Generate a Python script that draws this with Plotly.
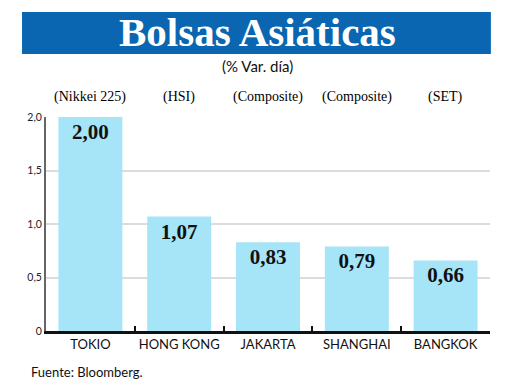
import plotly.graph_objects as go

cities = ["TOKIO", "HONG KONG", "JAKARTA", "SHANGHAI", "BANGKOK"]
indices = ["(Nikkei 225)", "(HSI)", "(Composite)", "(Composite)", "(SET)"]
values = [2.00, 1.07, 0.83, 0.79, 0.66]
ytick_vals = [0, 0.5, 1.0, 1.5, 2.0]
ytick_text = ["0", "0,5", "1,0", "1,5", "2,0"]

fig = go.Figure()
fig.add_trace(go.Bar(
    x=cities, y=values, width=0.72,
    marker=dict(color="#a6e4f8", line=dict(width=0)),
    texttemplate="<b>%{y:.2f}</b>", textposition="inside", insidetextanchor="end",
    textfont=dict(family="Liberation Serif", size=21, color="#111"),
    textangle=0, hoverinfo="skip",
))

# header labels above each bar
for c, lab in zip(cities, indices):
    fig.add_annotation(x=c, y=1.093, xref="x", yref="paper", text=lab, showarrow=False,
                       xanchor="center", yanchor="middle",
                       font=dict(family="Liberation Serif", size=14, color="#000"))

# title bar
fig.add_shape(type="rect", xref="paper", yref="paper", x0=-0.054, x1=1.002, y0=1.294, y1=1.491,
              fillcolor="#0a66b0", line=dict(width=0), layer="below")
fig.add_annotation(x=0.477, y=1.397, xref="paper", yref="paper", text="<b>Bolsas Asiáticas</b>",
                   showarrow=False, xanchor="center", yanchor="middle",
                   font=dict(family="Liberation Serif", size=41, color="white"))
fig.add_annotation(x=0.477, y=1.24, xref="paper", yref="paper", text="(% Var. día)",
                   showarrow=False, xanchor="center", yanchor="middle",
                   font=dict(family="Lato", size=15, color="#111"))
fig.add_annotation(x=-0.038, y=-0.192, xref="paper", yref="paper", text="Fuente: Bloomberg.",
                   xanchor="left", yanchor="middle", showarrow=False,
                   font=dict(family="Lato", size=13, color="#111"))

fig.update_layout(
    width=512, height=382, margin=dict(l=38, r=30, t=109, b=59, autoexpand=False),
    paper_bgcolor="white", plot_bgcolor="white", showlegend=False,
    separators=",.", bargap=0.28,
    xaxis=dict(type="category", tickson="boundaries", ticks="inside", ticklen=5, tickwidth=2,
               tickcolor="#111", showline=True, linecolor="#111", linewidth=2.5, tickangle=0,
               automargin=False,
               tickfont=dict(family="Lato", size=13, color="#111"), range=[-0.5, 4.5]),
    yaxis=dict(range=[0, 2.0], tickvals=ytick_vals, ticktext=ytick_text, showgrid=True,
               gridcolor="#dcdcdc", gridwidth=1.5, showline=True, linecolor="#666", linewidth=2,
               zeroline=False, ticks="", automargin=False,
               tickfont=dict(family="Lato", size=10.5, color="#222")),
)

fig.write_html("out.html")
